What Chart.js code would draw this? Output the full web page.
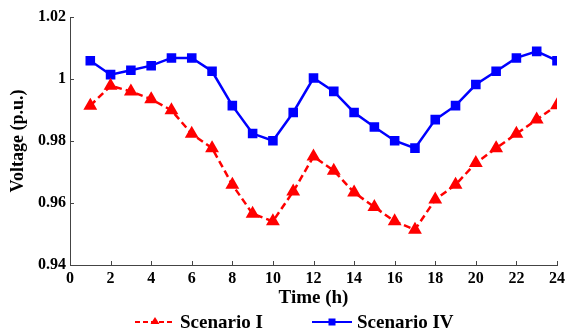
<!DOCTYPE html>
<html>
<head>
<meta charset="utf-8">
<script src="https://cdn.jsdelivr.net/npm/chart.js@4"></script>
<style>
    html, body { margin: 0; padding: 0; background: #fff; }
    #wrap { width: 569px; height: 334px; }
</style>
</head>
<body>
<div id="wrap"><canvas id="voltageChart" width="569" height="334"></canvas></div>
<script>
/* =========================
   DATA
========================= */

const hours = [1, 2, 3, 4, 5, 6, 7, 8, 9, 10, 11, 12, 13, 14, 15, 16, 17, 18, 19, 20, 21, 22, 23, 24];

const scenarioI = [0.9914, 0.9978, 0.9960, 0.9935, 0.9899, 0.9823, 0.9777, 0.9659, 0.9565, 0.9541, 0.9637, 0.9750,
                   0.9704, 0.9634, 0.9587, 0.9541, 0.9514, 0.9611, 0.9659, 0.9729, 0.9777, 0.9823, 0.9869, 0.9915];

const scenarioIV = [1.0059, 1.0014, 1.0028, 1.0043, 1.0068, 1.0068, 1.0025, 0.9914, 0.9824, 0.9801, 0.9892, 1.0003,
                    0.9960, 0.9892, 0.9845, 0.9801, 0.9777, 0.9869, 0.9914, 0.9982, 1.0025, 1.0068, 1.0089, 1.0059];

const xTickLabels = ["0", "2", "4", "6", "8", "10", "12", "14", "16", "18", "20", "22", "24"];
const yTickLabels = ["0.94", "0.96", "0.98", "1", "1.02"];

const seriesNames = ["Scenario I", "Scenario IV"];

/* =========================
   HELPERS
========================= */

const FONT = "'Liberation Serif', 'Times New Roman', serif";

// inward tick marks like the original plot
const inwardTicks = {
    id: "inwardTicks",
    afterDatasetsDraw(chart) {
        const ctx = chart.ctx;
        const x = chart.scales.x;
        const y = chart.scales.y;
        ctx.save();
        ctx.strokeStyle = "#444";
        ctx.lineWidth = 1;
        x.ticks.forEach(t => {
            const px = Math.round(x.getPixelForValue(t.value)) + 0.5;
            ctx.beginPath();
            ctx.moveTo(px, y.bottom);
            ctx.lineTo(px, y.bottom - 4);
            ctx.stroke();
        });
        y.ticks.forEach(t => {
            const py = Math.round(y.getPixelForValue(t.value)) + 0.5;
            ctx.beginPath();
            ctx.moveTo(x.left, py);
            ctx.lineTo(x.left + 4, py);
            ctx.stroke();
        });
        ctx.restore();
    }
};

// legend below the axis title: line sample with marker, then name
const bottomLegend = {
    id: "bottomLegend",
    afterDraw(chart) {
        const ctx = chart.ctx;
        const cy = 322;
        const items = [
            { x: 135, ds: chart.data.datasets[0], marker: "triangle" },
            { x: 312, ds: chart.data.datasets[1], marker: "rect" }
        ];
        ctx.save();
        items.forEach(it => {
            ctx.strokeStyle = it.ds.borderColor;
            ctx.fillStyle = it.ds.borderColor;
            ctx.lineWidth = 2;
            ctx.setLineDash(it.marker === "triangle" ? [5, 3] : []);
            ctx.beginPath();
            ctx.moveTo(it.x, cy);
            ctx.lineTo(it.x + 40, cy);
            ctx.stroke();
            ctx.setLineDash([]);
            const mx = it.x + 20;
            if (it.marker === "triangle") {
                ctx.beginPath();
                ctx.moveTo(mx, cy - 5);
                ctx.lineTo(mx + 4.5, cy + 2);
                ctx.lineTo(mx - 4.5, cy + 2);
                ctx.closePath();
                ctx.fill();
            } else {
                ctx.fillRect(mx - 3.5, cy - 3.5, 7, 7);
            }
            ctx.fillStyle = "#000";
            ctx.font = "bold 19px " + FONT;
            ctx.textBaseline = "middle";
            ctx.textAlign = "left";
            ctx.fillText(it.ds.label, it.x + 45, cy + 1);
        });
        ctx.restore();
    }
};

/* =========================
   CHART
========================= */

new Chart(document.getElementById("voltageChart"), {

    type: "line",

    data: {
        labels: hours,
        datasets: [{
            label: seriesNames[0],
            data: hours.map((h, i) => ({ x: h, y: scenarioI[i] })),
            borderColor: "#ff0000",
            backgroundColor: "#ff0000",
            borderWidth: 2.5,
            borderDash: [7, 4],
            pointStyle: "triangle",
            pointRadius: 5.5,
            pointHoverRadius: 5.5,
            tension: 0
        }, {
            label: seriesNames[1],
            data: hours.map((h, i) => ({ x: h, y: scenarioIV[i] })),
            borderColor: "#0000ff",
            backgroundColor: "#0000ff",
            borderWidth: 2.5,
            pointStyle: "rect",
            pointRadius: 5,
            pointHoverRadius: 5,
            tension: 0
        }]
    },

    options: {
        responsive: false,
        animation: false,
        layout: {
            padding: { left: 4, right: 10, top: 17, bottom: 24 }
        },
        plugins: {
            tooltip: { enabled: false },
            legend: { display: false }
        },
        scales: {
            x: {
                type: "linear",
                min: 0,
                max: 24,
                afterFit: (scale) => { scale.height = 45; },
                grid: { display: true, drawOnChartArea: false, drawTicks: false },
                border: { display: true, color: "#444", width: 1 },
                ticks: {
                    stepSize: 2,
                    padding: 4,
                    color: "#000",
                    maxRotation: 0,
                    font: { family: FONT, size: 16, weight: "bold" },
                    callback: (v) => xTickLabels[Math.round(v / 2)]
                },
                title: {
                    display: true,
                    text: "Time (h)",
                    color: "#000",
                    padding: { top: 0, bottom: 1 },
                    font: { family: FONT, size: 19, weight: "bold" }
                }
            },
            y: {
                min: 0.94,
                max: 1.02,
                afterFit: (scale) => { scale.width = 66; },
                grid: { display: true, drawOnChartArea: false, drawTicks: false },
                border: { display: true, color: "#444", width: 1 },
                ticks: {
                    stepSize: 0.02,
                    padding: 4,
                    color: "#000",
                    font: { family: FONT, size: 16, weight: "bold" },
                    callback: (v) => yTickLabels[Math.round((v - 0.94) / 0.02)]
                },
                title: {
                    display: true,
                    text: "Voltage (p.u.)",
                    color: "#000",
                    padding: { top: 4, bottom: 0 },
                    font: { family: FONT, size: 18, weight: "bold" }
                }
            }
        }
    },

    plugins: [inwardTicks, bottomLegend]
});
</script>
</body>
</html>
